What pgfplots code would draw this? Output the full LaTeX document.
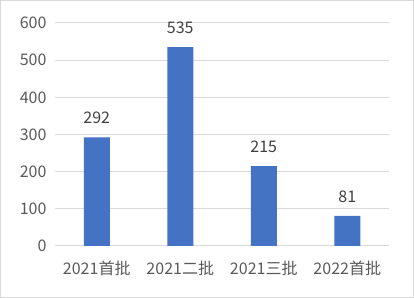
\documentclass[border=0pt]{standalone}
\usepackage{pgfplots}
\pgfplotsset{compat=1.18}
\usepackage{fontspec}
\setmainfont{Noto Sans CJK SC}
\definecolor{barblue}{HTML}{4472C4}
\definecolor{gridgray}{HTML}{D9D9D9}
\definecolor{textgray}{HTML}{595959}
\definecolor{labelgray}{HTML}{404040}
\begin{document}
\begin{tikzpicture}
\begin{axis}[
  name=a,
  scale only axis,
  width=334pt, height=223pt,
  xmin=-0.5, xmax=3.5,
  ymin=0, ymax=600,
  ytick={0,100,...,600},
  xtick=data,
  xticklabels={2021首批,2021二批,2021三批,2022首批},
  axis line style={draw=none},
  major tick style={draw=none},
  ymajorgrids,
  grid style={gridgray, line width=1pt},
  tick label style={font=\fontsize{16}{18}\selectfont, text=textgray},
  /pgf/number format/assume math mode=true,
  yticklabel style={xshift=-5pt},
  xticklabel style={yshift=-7pt, font=\fontsize{16}{18}\selectfont},
  ybar, bar width=26pt,
  nodes near coords,
  nodes near coords style={font=\fontsize{16}{18}\selectfont, text=labelgray, yshift=10pt},
  clip=false,
]
\addplot[fill=barblue, draw=none] coordinates {(0,292) (1,535) (2,215) (3,81)};
\end{axis}
\draw[gridgray, line width=1pt] ([shift={(-54.5pt,-51.5pt)}]a.south west) rectangle ([shift={(24.5pt,22.5pt)}]a.north east);
\end{tikzpicture}
\end{document}
